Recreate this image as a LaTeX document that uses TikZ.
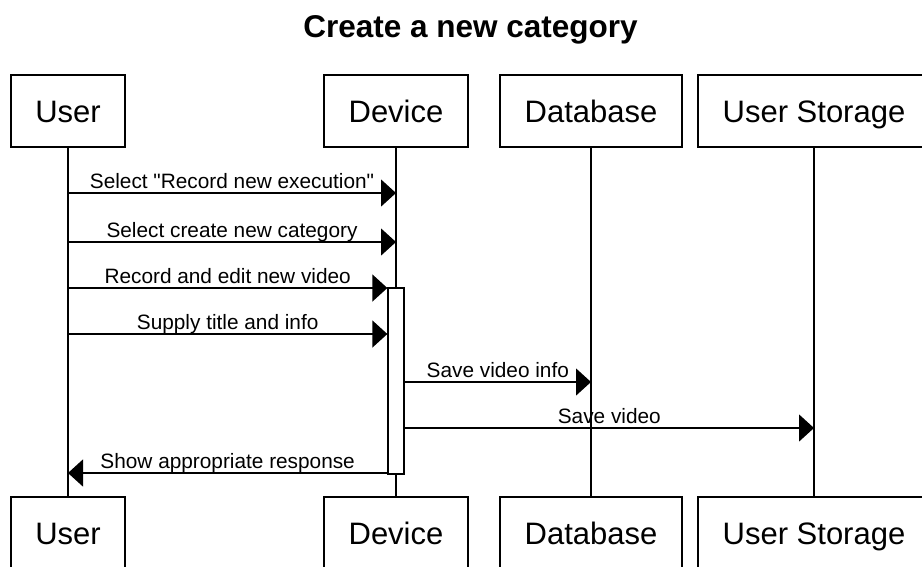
\documentclass[tikz,border=0pt]{standalone}
\usepackage{fontspec}
\setmainfont{Liberation Sans}
\usetikzlibrary{arrows.meta}

\begin{document}
\begin{tikzpicture}[x=1pt, y=-1pt, line width=1.3pt,
    actor/.style={draw, rectangle, minimum height=72pt, inner sep=0pt, text height=22.2pt, text depth=0pt, font=\fontsize{31}{37}\selectfont},
    msg/.style={-{Triangle[length=15pt, width=27pt]}},
    lbl/.style={midway, anchor=base, yshift=5pt, inner sep=0pt, font=\fontsize{20.8}{25}\selectfont}]
    \useasboundingbox (0,0) rectangle (922,566);
    \clip (0,0) rectangle (922,566);

    \node[anchor=base, font=\bfseries\fontsize{31.5}{38}\selectfont] (title) at (470.5,37) {Create a new category};

    % participants, top and bottom
    \node[actor, minimum width=114pt] (userTop) at (68,111) {User};
    \node[actor, minimum width=144pt] (devTop) at (396,111) {Device};
    \node[actor, minimum width=182pt] (dbTop) at (591,111) {Database};
    \node[actor, minimum width=232pt] (storeTop) at (814,111) {User Storage};

    \node[actor, minimum width=114pt] (userBot) at (68,533) {User};
    \node[actor, minimum width=144pt] (devBot) at (396,533) {Device};
    \node[actor, minimum width=182pt] (dbBot) at (591,533) {Database};
    \node[actor, minimum width=232pt] (storeBot) at (814,533) {User Storage};

    % lifelines
    \draw (userTop) -- (userBot);
    \draw (devTop) -- (devBot);
    \draw (dbTop) -- (dbBot);
    \draw (storeTop) -- (storeBot);

    \node[draw, fill=white, inner sep=0pt, minimum width=16pt, minimum height=186pt] (act) at (396,381) {};

    % message rows
    \coordinate (r1) at (0,193);
    \coordinate (r2) at (0,242);
    \coordinate (r3) at (0,288);
    \coordinate (r4) at (0,334);
    \coordinate (r5) at (0,382);
    \coordinate (r6) at (0,428);
    \coordinate (r7) at (0,473);

    \draw[msg] (userTop |- r1) -- (devTop |- r1) node[lbl] {Select \textquotedbl Record new execution\textquotedbl};
    \draw[msg] (userTop |- r2) -- (devTop |- r2) node[lbl] {Select create new category};
    \draw[msg] (userTop |- r3) -- (act.west |- r3) node[lbl] {Record and edit new video};
    \draw[msg] (userTop |- r4) -- (act.west |- r4) node[lbl] {Supply title and info};
    \draw[msg] (act.east |- r5) -- (dbTop |- r5) node[lbl] {Save video info};
    \draw[msg] (act.east |- r6) -- (storeTop |- r6) node[lbl] {Save video};
    \draw[msg] (act.west |- r7) -- (userTop |- r7) node[lbl] {Show appropriate response};
\end{tikzpicture}
\end{document}
